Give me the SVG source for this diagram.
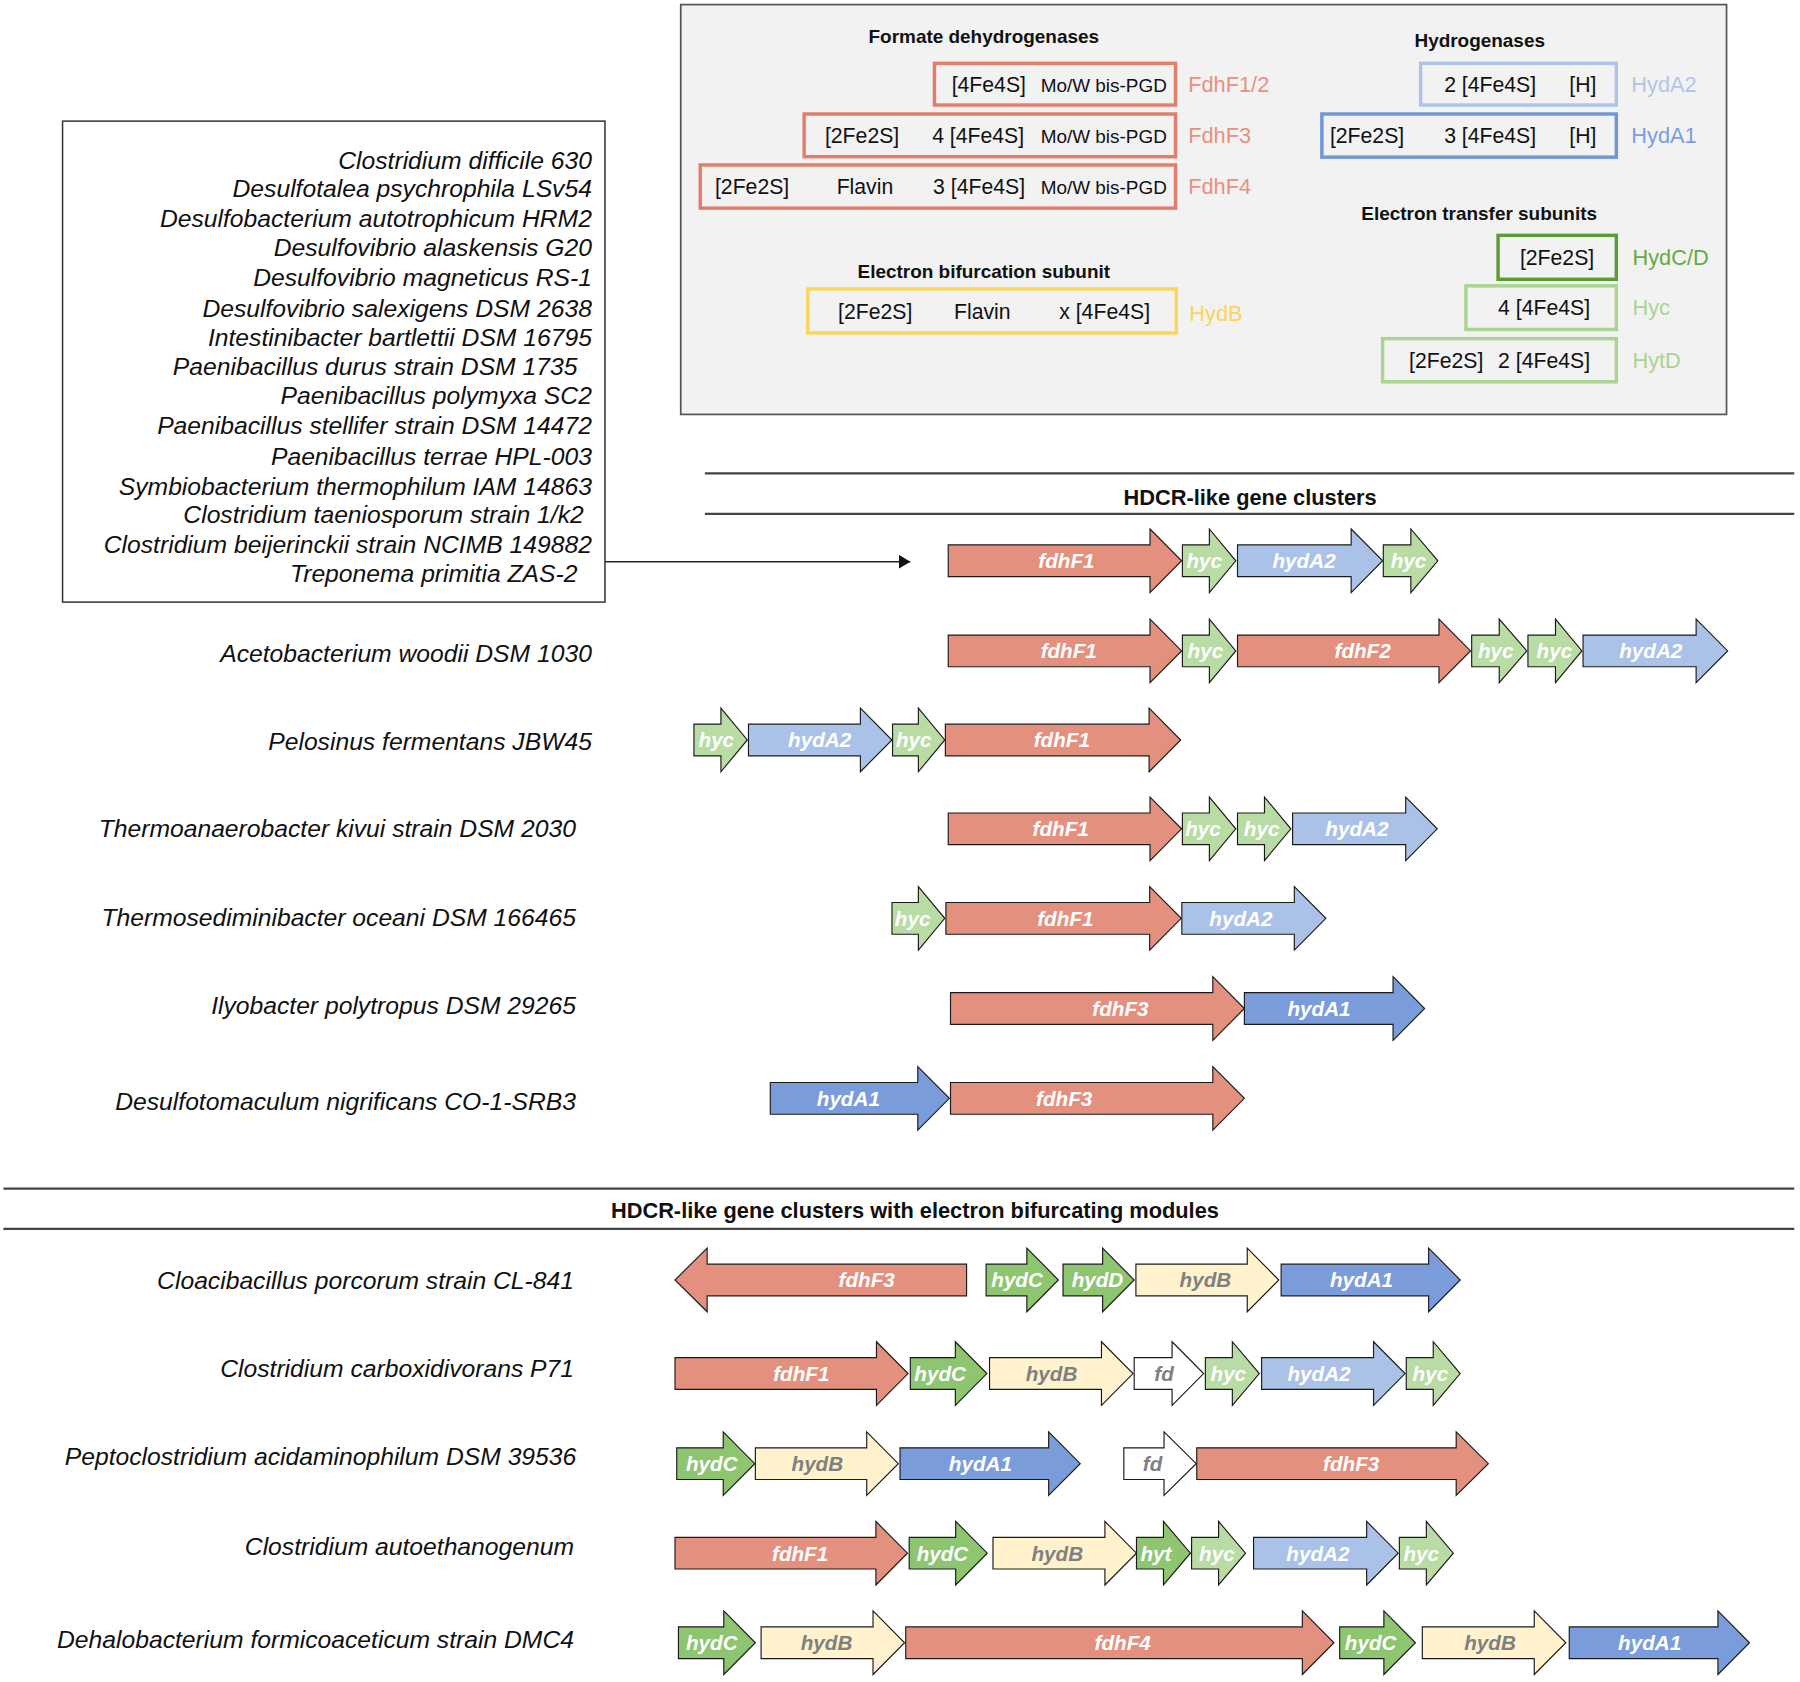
<svg xmlns="http://www.w3.org/2000/svg" width="1800" height="1682" viewBox="0 0 1800 1682">
<defs>
<style>
.t{font-family:"Liberation Sans",Arial,sans-serif;}
.ttl{font-family:"Liberation Sans",Arial,sans-serif;font-weight:bold;font-size:16.5px;fill:#111;text-anchor:middle;}
.sec{font-family:"Liberation Sans",Arial,sans-serif;font-weight:bold;font-size:19px;fill:#111;text-anchor:middle;}
.bx{font-family:"Liberation Sans",Arial,sans-serif;font-size:18.5px;fill:#111;}
.mo{font-family:"Liberation Sans",Arial,sans-serif;font-size:16.5px;fill:#111;}
.lab{font-family:"Liberation Sans",Arial,sans-serif;font-size:19px;}
.sp{font-family:"Liberation Sans",Arial,sans-serif;font-style:italic;font-size:21.5px;fill:#111;text-anchor:end;}
.g{font-family:"Liberation Sans",Arial,sans-serif;font-style:italic;font-weight:bold;font-size:18px;fill:#fff;text-anchor:middle;}
.gg{fill:#808080;}
.ar{stroke:#1a1a1a;stroke-width:1;stroke-linejoin:miter;}
.fdh{fill:#e3907e;}
.hyc{fill:#b8dca4;}
.a2{fill:#abc2e8;}
.a1{fill:#7b9cdb;}
.hc{fill:#8dc570;}
.hb{fill:#fff2cc;}
.fd{fill:#ffffff;}
.line{stroke:#444;stroke-width:2;fill:none;}
.pb{fill:none;stroke-width:3;}
</style>
<marker id="tri" markerUnits="userSpaceOnUse" markerWidth="10" markerHeight="12" refX="10" refY="6" orient="auto">
<path d="M0,0 L10,6 L0,12 z" fill="#111"/>
</marker>
</defs>
<rect width="1800" height="1682" fill="#fff"/>
<g transform="scale(1.14796)">

<!-- Legend panel -->
<g id="legend">
<rect x="593" y="4" width="911" height="357" fill="#f2f2f2" stroke="#555" stroke-width="1.5"/>
<text class="ttl" x="857" y="37.5">Formate dehydrogenases</text>
<text class="ttl" x="1289" y="41">Hydrogenases</text>
<text class="ttl" x="1288.5" y="192">Electron transfer subunits</text>
<text class="ttl" x="857" y="242.5">Electron bifurcation subunit</text>
</g>

<g id="FdhF12">
<rect class="pb" x="814" y="55.2" width="210" height="36.3" stroke="#e27c6b"/>
<text class="bx" x="829" y="80">[4Fe4S]</text>
<text class="mo" x="906.5" y="80">Mo/W bis-PGD</text>
<text class="lab" x="1035" y="80" fill="#eb8f7e">FdhF1/2</text>
</g>
<g id="FdhF3">
<rect class="pb" x="700.5" y="99.3" width="323.5" height="37.2" stroke="#e27c6b"/>
<text class="bx" x="718.6" y="124.5">[2Fe2S]</text>
<text class="bx" x="812" y="124.5">4 [4Fe4S]</text>
<text class="mo" x="906.5" y="124.5">Mo/W bis-PGD</text>
<text class="lab" x="1035" y="124.5" fill="#eb8f7e">FdhF3</text>
</g>
<g id="FdhF4">
<rect class="pb" x="610" y="143.7" width="414" height="37.6" stroke="#e27c6b"/>
<text class="bx" x="622.8" y="169">[2Fe2S]</text>
<text class="bx" x="728.8" y="169">Flavin</text>
<text class="bx" x="812.8" y="169">3 [4Fe4S]</text>
<text class="mo" x="906.5" y="169">Mo/W bis-PGD</text>
<text class="lab" x="1035" y="169" fill="#eb8f7e">FdhF4</text>
</g>
<g id="HydB-legend">
<rect class="pb" x="703.7" y="251.7" width="321" height="38.3" stroke="#fcd658"/>
<text class="bx" x="730" y="277.5">[2Fe2S]</text>
<text class="bx" x="831" y="277.5">Flavin</text>
<text class="bx" x="922.7" y="277.5">x [4Fe4S]</text>
<text class="lab" x="1036" y="280" fill="#fbd45a">HydB</text>
</g>
<g id="HydA2-legend">
<rect class="pb" x="1237.5" y="55.2" width="170.5" height="36.3" stroke="#adc4ea"/>
<text class="bx" x="1258" y="80">2 [4Fe4S]</text>
<text class="bx" x="1367" y="80">[H]</text>
<text class="lab" x="1421" y="80" fill="#b3c6ea">HydA2</text>
</g>
<g id="HydA1-legend">
<rect class="pb" x="1151.5" y="99.3" width="256.5" height="37.6" stroke="#7096d9"/>
<text class="bx" x="1158.5" y="124.5">[2Fe2S]</text>
<text class="bx" x="1258" y="124.5">3 [4Fe4S]</text>
<text class="bx" x="1367" y="124.5">[H]</text>
<text class="lab" x="1421" y="124.5" fill="#7c9de0">HydA1</text>
</g>
<g id="HydCD-legend">
<rect class="pb" x="1305" y="205" width="103" height="38.3" stroke="#5b9c35"/>
<text class="bx" x="1324" y="230.5">[2Fe2S]</text>
<text class="lab" x="1422" y="230.5" fill="#69a944">HydC/D</text>
</g>
<g id="Hyc-legend">
<rect class="pb" x="1277" y="249" width="131" height="38" stroke="#a9d491"/>
<text class="bx" x="1305" y="274.5">4 [4Fe4S]</text>
<text class="lab" x="1422" y="274.5" fill="#a9d491">Hyc</text>
</g>
<g id="HytD-legend">
<rect class="pb" x="1204.4" y="295" width="203.6" height="37.6" stroke="#a9d491"/>
<text class="bx" x="1227.4" y="320.3">[2Fe2S]</text>
<text class="bx" x="1305" y="320.3">2 [4Fe4S]</text>
<text class="lab" x="1422" y="320.3" fill="#a9d491">HytD</text>
</g>

<!-- Species box -->
<g id="species-box">
<rect x="54.5" y="105.5" width="472.5" height="419" fill="#fff" stroke="#333" stroke-width="1.3"/>
<text class="sp" x="515.6" y="147">Clostridium difficile 630</text>
<text class="sp" x="515.6" y="172">Desulfotalea psychrophila LSv54</text>
<text class="sp" x="515.6" y="198">Desulfobacterium autotrophicum HRM2</text>
<text class="sp" x="515.6" y="223">Desulfovibrio alaskensis G20</text>
<text class="sp" x="515.6" y="249">Desulfovibrio magneticus RS-1</text>
<text class="sp" x="515.6" y="276">Desulfovibrio salexigens DSM 2638</text>
<text class="sp" x="515.6" y="301">Intestinibacter bartlettii DSM 16795</text>
<text class="sp" x="503" y="327">Paenibacillus durus strain DSM 1735</text>
<text class="sp" x="515.6" y="352">Paenibacillus polymyxa SC2</text>
<text class="sp" x="515.6" y="378">Paenibacillus stellifer strain DSM 14472</text>
<text class="sp" x="515.6" y="405">Paenibacillus terrae HPL-003</text>
<text class="sp" x="515.6" y="431">Symbiobacterium thermophilum IAM 14863</text>
<text class="sp" x="508.5" y="456">Clostridium taeniosporum strain 1/k2</text>
<text class="sp" x="515.6" y="482">Clostridium beijerinckii strain NCIMB 149882</text>
<text class="sp" x="503" y="507">Treponema primitia ZAS-2</text>
</g>

<!-- Connectors and section lines -->
<g id="connectors">
<line x1="527" y1="489.3" x2="793" y2="489.3" stroke="#222" stroke-width="1.3" marker-end="url(#tri)"/>
<line class="line" x1="614" y1="412.3" x2="1563" y2="412.3"/>
<line class="line" x1="614" y1="447.7" x2="1563" y2="447.7"/>
<line class="line" x1="3" y1="1035.5" x2="1563" y2="1035.5"/>
<line class="line" x1="3" y1="1070.5" x2="1563" y2="1070.5"/>
</g>
<text class="sec" x="1089" y="440">HDCR-like gene clusters</text>
<text class="sec" x="797" y="1061">HDCR-like gene clusters with electron bifurcating modules</text>

<!-- Species labels -->
<g id="labels">
<text class="sp" x="515.6" y="577">Acetobacterium woodii DSM 1030</text>
<text class="sp" x="515.6" y="653">Pelosinus fermentans JBW45</text>
<text class="sp" x="501.7" y="729.5">Thermoanaerobacter kivui strain DSM 2030</text>
<text class="sp" x="501.7" y="807">Thermosediminibacter oceani DSM 166465</text>
<text class="sp" x="501.7" y="883.5">Ilyobacter polytropus DSM 29265</text>
<text class="sp" x="501.7" y="967">Desulfotomaculum nigrificans CO-1-SRB3</text>
<text class="sp" x="500" y="1123">Cloacibacillus porcorum strain CL-841</text>
<text class="sp" x="500" y="1199.5">Clostridium carboxidivorans P71</text>
<text class="sp" x="502" y="1276">Peptoclostridium acidaminophilum DSM 39536</text>
<text class="sp" x="500" y="1355">Clostridium autoethanogenum</text>
<text class="sp" x="500" y="1436">Dehalobacterium formicoaceticum strain DMC4</text>
</g>

<!-- Row 1 -->
<g id="row1">
<path class="ar fdh" d="M826,474.7 h175.8 v-13.9 l27.5,27.7 l-27.5,27.7 v-13.9 h-175.8 z"/>
<text class="g" x="929" y="495">fdhF1</text>
<path class="ar hyc" d="M1030,474.7 h23.5 v-13.9 l23,27.7 l-23,27.7 v-13.9 h-23.5 z"/>
<text class="g" x="1049" y="495">hyc</text>
<path class="ar a2" d="M1078,474.7 h99 v-13.9 l27.5,27.7 l-27.5,27.7 v-13.9 h-99 z"/>
<text class="g" x="1136" y="495">hydA2</text>
<path class="ar hyc" d="M1205,474.7 h24 v-13.9 l23.5,27.7 l-23.5,27.7 v-13.9 h-24 z"/>
<text class="g" x="1227" y="495">hyc</text>
</g>

<!-- Row 2 -->
<g id="row2">
<path class="ar fdh" d="M826,553.2 h175.8 v-13.9 l27.5,27.7 l-27.5,27.7 v-13.9 h-175.8 z"/>
<text class="g" x="931" y="573.5">fdhF1</text>
<path class="ar hyc" d="M1030,553.2 h23.5 v-13.9 l23,27.7 l-23,27.7 v-13.9 h-23.5 z"/>
<text class="g" x="1050" y="573.5">hyc</text>
<path class="ar fdh" d="M1078,553.2 h175.5 v-13.9 l27.5,27.7 l-27.5,27.7 v-13.9 h-175.5 z"/>
<text class="g" x="1187" y="573.5">fdhF2</text>
<path class="ar hyc" d="M1282,553.2 h24 v-13.9 l24,27.7 l-24,27.7 v-13.9 h-24 z"/>
<text class="g" x="1303" y="573.5">hyc</text>
<path class="ar hyc" d="M1331,553.2 h24 v-13.9 l23,27.7 l-23,27.7 v-13.9 h-24 z"/>
<text class="g" x="1354" y="573.5">hyc</text>
<path class="ar a2" d="M1379,553.2 h98.5 v-13.9 l27.5,27.7 l-27.5,27.7 v-13.9 h-98.5 z"/>
<text class="g" x="1438" y="573.5">hydA2</text>
</g>

<!-- Row 3 -->
<g id="row3">
<path class="ar hyc" d="M604.5,630.8 h23.5 v-13.9 l23,27.7 l-23,27.7 v-13.9 h-23.5 z"/>
<text class="g" x="624" y="651">hyc</text>
<path class="ar a2" d="M652,630.8 h97.5 v-13.9 l27.5,27.7 l-27.5,27.7 v-13.9 h-97.5 z"/>
<text class="g" x="714" y="651">hydA2</text>
<path class="ar hyc" d="M777.5,630.8 h22.5 v-13.9 l23,27.7 l-23,27.7 v-13.9 h-22.5 z"/>
<text class="g" x="796" y="651">hyc</text>
<path class="ar fdh" d="M823.5,630.8 h177.5 v-13.9 l27.5,27.7 l-27.5,27.7 v-13.9 h-177.5 z"/>
<text class="g" x="925" y="651">fdhF1</text>
</g>

<!-- Row 4 -->
<g id="row4">
<path class="ar fdh" d="M826,708.2 h175.8 v-13.9 l27.5,27.7 l-27.5,27.7 v-13.9 h-175.8 z"/>
<text class="g" x="924" y="728.5">fdhF1</text>
<path class="ar hyc" d="M1030,708.2 h23.5 v-13.9 l23,27.7 l-23,27.7 v-13.9 h-23.5 z"/>
<text class="g" x="1048" y="728.5">hyc</text>
<path class="ar hyc" d="M1078,708.2 h23.5 v-13.9 l23,27.7 l-23,27.7 v-13.9 h-23.5 z"/>
<text class="g" x="1099" y="728.5">hyc</text>
<path class="ar a2" d="M1126,708.2 h98.5 v-13.9 l27.5,27.7 l-27.5,27.7 v-13.9 h-98.5 z"/>
<text class="g" x="1182" y="728.5">hydA2</text>
</g>

<!-- Row 5 -->
<g id="row5">
<path class="ar hyc" d="M777,786.2 h23 v-13.9 l23,27.7 l-23,27.7 v-13.9 h-23 z"/>
<text class="g" x="795" y="806.5">hyc</text>
<path class="ar fdh" d="M824,786.2 h177.5 v-13.9 l27.5,27.7 l-27.5,27.7 v-13.9 h-177.5 z"/>
<text class="g" x="928" y="806.5">fdhF1</text>
<path class="ar a2" d="M1029.5,786.2 h98 v-13.9 l27.5,27.7 l-27.5,27.7 v-13.9 h-98 z"/>
<text class="g" x="1081" y="806.5">hydA2</text>
</g>

<!-- Row 6 -->
<g id="row6">
<path class="ar fdh" d="M828,864.7 h228.5 v-13.9 l27.5,27.7 l-27.5,27.7 v-13.9 h-228.5 z"/>
<text class="g" x="976" y="885">fdhF3</text>
<path class="ar a1" d="M1084,864.7 h129.5 v-13.9 l27.5,27.7 l-27.5,27.7 v-13.9 h-129.5 z"/>
<text class="g" x="1149" y="885">hydA1</text>
</g>

<!-- Row 7 -->
<g id="row7">
<path class="ar a1" d="M671,943 h128.5 v-13.9 l27.5,27.7 l-27.5,27.7 v-13.9 h-128.5 z"/>
<text class="g" x="739" y="963.3">hydA1</text>
<path class="ar fdh" d="M828,943 h228.5 v-13.9 l27.5,27.7 l-27.5,27.7 v-13.9 h-228.5 z"/>
<text class="g" x="927" y="963.3">fdhF3</text>
</g>

<!-- Row 8 -->
<g id="row8">
<path class="ar fdh" d="M842,1101.2 h-226 v-13.9 l-28,27.7 l28,27.7 v-13.9 h226 z"/>
<text class="g" x="755" y="1121.5">fdhF3</text>
<path class="ar hc" d="M859,1101.2 h35.5 v-13.9 l27.5,27.7 l-27.5,27.7 v-13.9 h-35.5 z"/>
<text class="g" x="886" y="1121.5">hydC</text>
<path class="ar hc" d="M926,1101.2 h34.5 v-13.9 l27.5,27.7 l-27.5,27.7 v-13.9 h-34.5 z"/>
<text class="g" x="956" y="1121.5">hydD</text>
<path class="ar hb" d="M989.5,1101.2 h97 v-13.9 l27.5,27.7 l-27.5,27.7 v-13.9 h-97 z"/>
<text class="g gg" x="1050" y="1121.5">hydB</text>
<path class="ar a1" d="M1116,1101.2 h128.5 v-13.9 l27.5,27.7 l-27.5,27.7 v-13.9 h-128.5 z"/>
<text class="g" x="1186" y="1121.5">hydA1</text>
</g>

<!-- Row 9 -->
<g id="row9">
<path class="ar fdh" d="M588,1182.7 h175.5 v-13.9 l27.5,27.7 l-27.5,27.7 v-13.9 h-175.5 z"/>
<text class="g" x="698" y="1203">fdhF1</text>
<path class="ar hc" d="M793,1182.7 h39.2 v-13.9 l27.5,27.7 l-27.5,27.7 v-13.9 h-39.2 z"/>
<text class="g" x="819" y="1203">hydC</text>
<path class="ar hb" d="M862,1182.7 h97.5 v-13.9 l27.5,27.7 l-27.5,27.7 v-13.9 h-97.5 z"/>
<text class="g gg" x="916" y="1203">hydB</text>
<path class="ar fd" d="M988,1182.7 h33 v-13.9 l27.5,27.7 l-27.5,27.7 v-13.9 h-33 z"/>
<text class="g gg" x="1014" y="1203">fd</text>
<path class="ar hyc" d="M1050,1182.7 h23.5 v-13.9 l23.5,27.7 l-23.5,27.7 v-13.9 h-23.5 z"/>
<text class="g" x="1070" y="1203">hyc</text>
<path class="ar a2" d="M1099,1182.7 h97.5 v-13.9 l27.5,27.7 l-27.5,27.7 v-13.9 h-97.5 z"/>
<text class="g" x="1149" y="1203">hydA2</text>
<path class="ar hyc" d="M1225,1182.7 h23.5 v-13.9 l23.5,27.7 l-23.5,27.7 v-13.9 h-23.5 z"/>
<text class="g" x="1246" y="1203">hyc</text>
</g>

<!-- Row 10 -->
<g id="row10">
<path class="ar hc" d="M589.5,1261.2 h40.5 v-13.9 l27.5,27.7 l-27.5,27.7 v-13.9 h-40.5 z"/>
<text class="g" x="620" y="1281.5">hydC</text>
<path class="ar hb" d="M658,1261.2 h97 v-13.9 l27.5,27.7 l-27.5,27.7 v-13.9 h-97 z"/>
<text class="g gg" x="712" y="1281.5">hydB</text>
<path class="ar a1" d="M784,1261.2 h129.5 v-13.9 l27.5,27.7 l-27.5,27.7 v-13.9 h-129.5 z"/>
<text class="g" x="854" y="1281.5">hydA1</text>
<path class="ar fd" d="M979,1261.2 h35 v-13.9 l28,27.7 l-28,27.7 v-13.9 h-35 z"/>
<text class="g gg" x="1004" y="1281.5">fd</text>
<path class="ar fdh" d="M1042.5,1261.2 h226 v-13.9 l28,27.7 l-28,27.7 v-13.9 h-226 z"/>
<text class="g" x="1177" y="1281.5">fdhF3</text>
</g>

<!-- Row 11 -->
<g id="row11">
<path class="ar fdh" d="M588,1339.2 h175 v-13.9 l27.5,27.7 l-27.5,27.7 v-13.9 h-175 z"/>
<text class="g" x="697" y="1359.5">fdhF1</text>
<path class="ar hc" d="M792,1339.2 h40.5 v-13.9 l27.5,27.7 l-27.5,27.7 v-13.9 h-40.5 z"/>
<text class="g" x="821" y="1359.5">hydC</text>
<path class="ar hb" d="M865,1339.2 h97.5 v-13.9 l27.5,27.7 l-27.5,27.7 v-13.9 h-97.5 z"/>
<text class="g gg" x="921" y="1359.5">hydB</text>
<path class="ar hc" d="M990,1339.2 h23.5 v-13.9 l23.5,27.7 l-23.5,27.7 v-13.9 h-23.5 z"/>
<text class="g" x="1007" y="1359.5">hyt</text>
<path class="ar hyc" d="M1038,1339.2 h23.5 v-13.9 l23.5,27.7 l-23.5,27.7 v-13.9 h-23.5 z"/>
<text class="g" x="1060" y="1359.5">hyc</text>
<path class="ar a2" d="M1092,1339.2 h98.5 v-13.9 l27.5,27.7 l-27.5,27.7 v-13.9 h-98.5 z"/>
<text class="g" x="1148" y="1359.5">hydA2</text>
<path class="ar hyc" d="M1219,1339.2 h23.5 v-13.9 l23.5,27.7 l-23.5,27.7 v-13.9 h-23.5 z"/>
<text class="g" x="1238" y="1359.5">hyc</text>
</g>

<!-- Row 12 -->
<g id="row12">
<path class="ar hc" d="M591,1417.2 h39.5 v-13.9 l27.5,27.7 l-27.5,27.7 v-13.9 h-39.5 z"/>
<text class="g" x="620" y="1437.5">hydC</text>
<path class="ar hb" d="M663,1417.2 h97.5 v-13.9 l27.5,27.7 l-27.5,27.7 v-13.9 h-97.5 z"/>
<text class="g gg" x="720" y="1437.5">hydB</text>
<path class="ar fdh" d="M789,1417.2 h345.5 v-13.9 l27.5,27.7 l-27.5,27.7 v-13.9 h-345.5 z"/>
<text class="g" x="978" y="1437.5">fdhF4</text>
<path class="ar hc" d="M1167,1417.2 h38.5 v-13.9 l27.5,27.7 l-27.5,27.7 v-13.9 h-38.5 z"/>
<text class="g" x="1194" y="1437.5">hydC</text>
<path class="ar hb" d="M1239,1417.2 h97.5 v-13.9 l27.5,27.7 l-27.5,27.7 v-13.9 h-97.5 z"/>
<text class="g gg" x="1298" y="1437.5">hydB</text>
<path class="ar a1" d="M1367,1417.2 h129.5 v-13.9 l27.5,27.7 l-27.5,27.7 v-13.9 h-129.5 z"/>
<text class="g" x="1437" y="1437.5">hydA1</text>
</g>

</g>
</svg>
